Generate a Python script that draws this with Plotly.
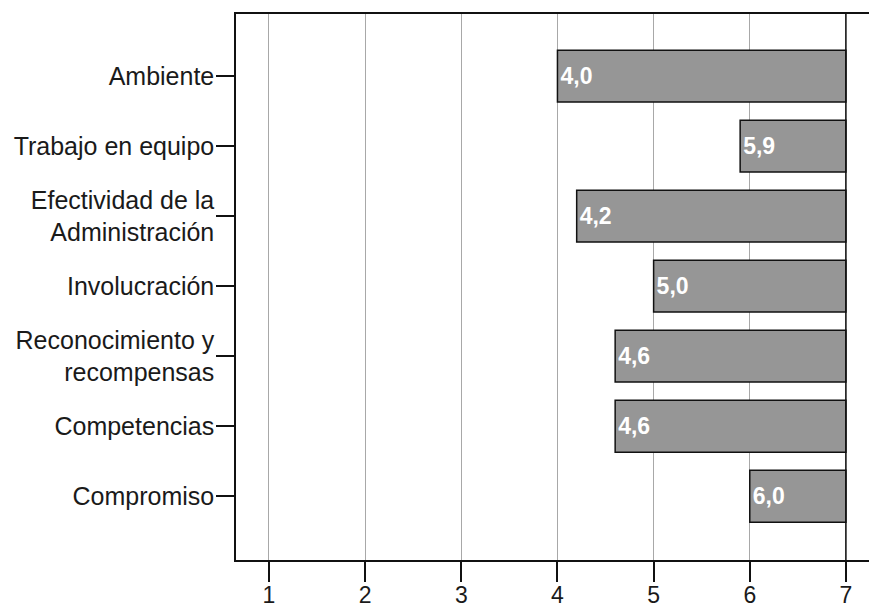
import plotly.graph_objects as go

# Survey dimensions (top to bottom) and their mean scores on a 1-7 scale
categories = [
    "Ambiente",
    "Trabajo en equipo",
    "Efectividad de la<br>Administración",
    "Involucración",
    "Reconocimiento y<br>recompensas",
    "Competencias",
    "Compromiso",
]
scores = [4.0, 5.9, 4.2, 5.0, 4.6, 4.6, 6.0]
score_labels = ["4,0", "5,9", "4,2", "5,0", "4,6", "4,6", "6,0"]
x_ticks = [1, 2, 3, 4, 5, 6, 7]
scale_max = 7

# Bars grow leftwards from the top of the scale down to each score
fig = go.Figure(
    go.Bar(
        y=categories,
        x=[s - scale_max for s in scores],
        base=[scale_max] * len(scores),
        orientation="h",
        width=0.74,
        marker=dict(color="#969696", line=dict(color="#111111", width=1.5)),
        text=score_labels,
        textposition="inside",
        insidetextanchor="end",
        textangle=0,
        textfont=dict(family="Liberation Sans, Arial, sans-serif", size=23,
                      color="white", weight="bold"),
        cliponaxis=False,
        hoverinfo="skip",
    )
)

# Dark reference line at the top of the scale
fig.add_shape(type="line", xref="x", yref="paper", x0=scale_max, x1=scale_max,
              y0=0, y1=1, line=dict(color="#111111", width=1.5), layer="above")

fig.update_layout(
    width=869,
    height=608,
    margin=dict(l=236, r=0, t=14, b=48),
    paper_bgcolor="white",
    plot_bgcolor="white",
    showlegend=False,
    bargap=0.26,
    font=dict(family="Liberation Sans, Arial, sans-serif", size=25, color="#1a1a1a"),
    xaxis=dict(
        range=[0.657, 7.24],
        tickvals=x_ticks,
        ticktext=[str(v) for v in x_ticks],
        automargin=False,
        showgrid=True,
        gridcolor="#a8a8a8",
        gridwidth=1,
        zeroline=False,
        showline=True,
        linecolor="#111111",
        linewidth=1.5,
        mirror=True,
        ticks="outside",
        ticklen=20,
        tickwidth=1.5,
        tickcolor="#111111",
        ticklabelstandoff=-6,
        tickfont=dict(size=23),
    ),
    yaxis=dict(
        categoryorder="array",
        categoryarray=categories,
        range=[6.91, -0.886],
        automargin=False,
        showgrid=False,
        zeroline=False,
        showline=True,
        linecolor="#111111",
        linewidth=1.5,
        ticks="outside",
        ticklen=18,
        tickwidth=1.5,
        tickcolor="#111111",
        ticklabelstandoff=-3,
        tickfont=dict(size=25),
    ),
)

fig.write_html("out.html")
